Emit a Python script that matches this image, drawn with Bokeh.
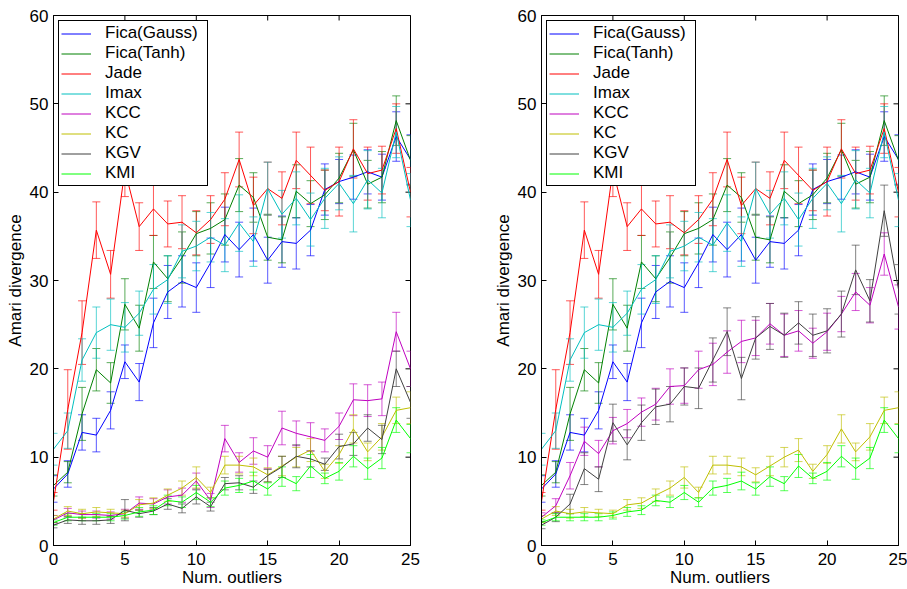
import math
from bokeh.plotting import figure
from bokeh.models import (ColumnDataSource, Whisker, TeeHead, Legend,
                          LegendItem, FixedTicker, Range1d)
from bokeh.layouts import row
from bokeh.embed import file_html
from bokeh.resources import INLINE

# ---------------- data ----------------
x = list(range(26))

fica_gauss = [6.4, 8.1, 12.8, 12.5, 15.3, 20.8, 18.5, 25.2, 28.7, 29.9, 29.2, 32.0, 35.2,
              33.5, 35.2, 32.3, 34.4, 34.2, 35.7, 40.3, 41.2, 41.7, 42.3, 41.7, 46.3, 43.7]
fica_gauss_err = [1.5, 1.5, 2.0, 1.9, 2.1, 1.9, 2.1, 2.8, 3.0, 2.9, 2.8, 2.8, 3.1,
                  3.1, 3.0, 2.6, 2.9, 2.9, 2.9, 2.9, 2.5, 2.5, 2.5, 2.6, 2.8, 2.8]

fica_tanh = [6.8, 8.3, 14.9, 19.9, 18.4, 27.3, 24.6, 32.1, 30.2, 32.6, 35.3, 35.9, 36.9,
             40.8, 39.4, 34.9, 34.6, 40.1, 38.7, 39.7, 41.6, 44.8, 40.9, 41.7, 48.1, 43.6]
fica_tanh_err = [1.2, 1.2, 3.0, 2.4, 2.3, 2.9, 2.6, 3.0, 2.6, 2.9, 2.5, 2.9, 2.9,
                 3.0, 2.8, 2.6, 2.6, 3.0, 2.6, 2.8, 2.8, 3.0, 2.7, 2.9, 2.8, 2.8]

jade = [5.0, 15.4, 24.1, 35.7, 30.7, 42.5, 36.1, 38.1, 36.4, 36.6, 35.4, 36.9, 39.2,
        43.7, 38.5, 40.4, 39.3, 43.6, 41.9, 40.2, 41.2, 44.9, 42.1, 42.5, 47.2, 40.0]
jade_err = [1.0, 4.5, 3.6, 3.2, 2.7, 3.0, 2.7, 3.0, 2.6, 3.0, 2.5, 2.7, 3.0,
            3.1, 3.2, 3.0, 3.0, 3.2, 3.2, 2.3, 3.9, 3.3, 3.0, 2.7, 2.8, 2.8]

imax = [10.9, 13.0, 21.0, 24.1, 25.0, 24.7, 26.3, 29.0, 30.1, 33.3, 33.9, 34.9, 34.0,
        36.5, 34.4, 40.4, 37.5, 39.3, 36.9, 39.3, 41.0, 38.7, 41.4, 39.9, 46.8, 39.1]
imax_err = [1.8, 2.0, 2.4, 2.9, 2.9, 2.8, 2.5, 2.8, 2.7, 3.0, 2.8, 2.8, 3.0,
            3.2, 2.8, 3.0, 2.7, 3.0, 3.0, 3.4, 3.0, 3.2, 3.3, 2.8, 2.9, 3.0]

kc = [3.0, 3.9, 3.6, 3.8, 3.7, 3.6, 4.6, 4.8, 5.7, 6.5, 7.7, 6.0, 9.1,
      9.1, 8.9, 8.0, 9.0, 10.0, 10.8, 8.4, 10.3, 13.2, 10.6, 12.3, 15.3, 15.6]
kc_err = [0.4, 0.5, 0.5, 0.5, 0.4, 0.4, 0.6, 0.6, 0.7, 0.8, 1.2, 0.6, 1.0,
          1.0, 1.0, 0.8, 1.1, 1.1, 1.3, 0.8, 1.0, 1.6, 1.0, 1.5, 1.5, 1.8]

kmi = [2.6, 3.2, 3.2, 3.2, 3.2, 3.4, 3.8, 4.0, 5.1, 4.9, 6.0, 4.9, 6.5,
       6.8, 7.3, 6.4, 7.8, 7.0, 9.0, 7.6, 8.4, 10.1, 8.7, 9.9, 14.2, 12.1]
kmi_err = [0.3, 0.4, 0.4, 0.4, 0.4, 0.4, 0.5, 0.5, 0.6, 0.6, 0.8, 0.5, 0.8,
           0.8, 1.0, 0.7, 1.1, 0.8, 1.3, 0.6, 1.0, 1.2, 1.2, 1.2, 1.4, 1.6]

# left panel
kcc_a = [2.9, 3.7, 3.5, 3.5, 3.4, 3.6, 4.8, 4.7, 5.5, 5.7, 7.3, 5.1, 12.1,
         9.4, 10.7, 10.0, 13.3, 12.7, 12.3, 11.9, 13.5, 16.5, 16.4, 16.6, 24.2, 20.0]
kcc_a_err = [0.5, 0.5, 0.4, 0.4, 0.4, 0.5, 0.7, 0.6, 0.8, 0.8, 0.9, 0.8, 1.5,
             1.1, 1.5, 1.3, 1.9, 1.4, 1.6, 1.3, 1.5, 1.8, 1.8, 1.9, 2.2, 2.0]
kgv_a = [2.3, 2.9, 2.8, 2.8, 2.9, 4.0, 3.6, 3.9, 4.7, 4.2, 5.5, 4.4, 7.0,
         7.1, 6.6, 7.9, 8.9, 10.1, 9.8, 9.2, 11.2, 11.5, 13.3, 12.0, 20.0, 16.2]
kgv_a_err = [0.3, 0.4, 0.4, 0.4, 0.4, 1.2, 0.4, 0.4, 0.6, 0.5, 0.8, 0.5, 0.7,
             0.8, 0.7, 0.7, 1.2, 1.3, 0.9, 0.7, 1.4, 1.3, 1.5, 1.6, 2.0, 1.8]

# right panel
kcc_b = [3.2, 4.5, 7.9, 11.8, 10.4, 13.0, 13.8, 15.1, 16.0, 18.0, 18.1, 19.9, 20.5,
         21.9, 23.1, 23.5, 25.1, 23.8, 24.3, 22.9, 24.2, 26.2, 28.7, 27.2, 33.0, 27.0]
kcc_b_err = [0.5, 0.8, 1.5, 1.6, 1.5, 1.5, 1.6, 1.6, 1.8, 2.0, 2.0, 2.1, 2.4,
             2.4, 2.4, 2.0, 2.3, 2.4, 2.3, 1.7, 2.1, 2.0, 2.1, 2.0, 2.4, 2.5]
kgv_b = [2.3, 3.2, 4.7, 8.7, 7.5, 13.9, 11.4, 13.9, 15.7, 16.0, 18.0, 17.8, 21.0,
         24.2, 18.9, 23.5, 24.8, 23.8, 25.2, 23.8, 24.3, 26.2, 31.2, 27.7, 37.9, 29.0]
kgv_b_err = [0.4, 0.5, 1.1, 1.8, 1.4, 2.1, 1.7, 2.0, 2.0, 2.0, 2.1, 2.3, 2.5,
             2.7, 2.4, 2.4, 2.6, 2.5, 2.4, 2.4, 2.5, 2.6, 2.8, 2.4, 2.9, 2.8]

labels = ["Fica(Gauss)", "Fica(Tanh)", "Jade", "Imax", "KCC", "KC", "KGV", "KMI"]
colors = ["#0000ff", "#008000", "#ff0000", "#00bfbf", "#bf00bf", "#bfbf00", "#404040", "#00ff00"]
x_ticks = [0, 5, 10, 15, 20, 25]
y_ticks = [0, 10, 20, 30, 40, 50, 60]
x_max, y_max = 25, 60

FONT = "Liberation Sans"


def make_panel(kcc, kcc_err, kgv, kgv_err, width, b_left, b_right):
    p = figure(width=width, height=589, output_backend="svg", toolbar_location=None,
               x_range=Range1d(0, x_max), y_range=Range1d(0, y_max),
               min_border_left=b_left, min_border_right=b_right,
               min_border_top=15, min_border_bottom=42)
    p.xgrid.visible = False
    p.ygrid.visible = False
    p.outline_line_color = "black"
    p.outline_line_alpha = 1.0
    p.background_fill_color = "white"
    p.border_fill_color = "white"

    for ax, tk in ((p.xaxis[0], x_ticks), (p.yaxis[0], y_ticks)):
        ax.ticker = FixedTicker(ticks=tk)
        ax.major_tick_in = 5
        ax.major_tick_out = 0
        ax.minor_tick_line_color = None
        ax.axis_line_color = "black"
        ax.major_tick_line_color = "black"
        ax.major_label_text_font = FONT
        ax.major_label_text_font_size = "17px"
        ax.major_label_text_color = "black"
        ax.axis_label_text_font = FONT
        ax.axis_label_text_font_size = "17px"
        ax.axis_label_text_font_style = "normal"
        ax.axis_label_text_color = "black"
    p.xaxis[0].major_label_standoff = 7
    p.xaxis[0].axis_label_standoff = 0
    p.yaxis[0].major_label_standoff = 5
    p.yaxis[0].axis_label_standoff = 2
    p.xaxis[0].axis_label = "Num. outliers"
    p.yaxis[0].axis_label = "Amari divergence"

    # inward ticks on the top and right edges (clipped to the frame)
    p.scatter(x=x_ticks, y=[y_max] * len(x_ticks), marker="dash", size=10,
              angle=math.pi / 2, line_color="black", line_width=1)
    p.scatter(x=[x_max] * len(y_ticks), y=y_ticks, marker="dash", size=10,
              line_color="black", line_width=1)

    series = [(fica_gauss, fica_gauss_err), (fica_tanh, fica_tanh_err), (jade, jade_err),
              (imax, imax_err), (kcc, kcc_err), (kc, kc_err), (kgv, kgv_err), (kmi, kmi_err)]
    items = []
    for (ys, es), lab, col in zip(series, labels, colors):
        src = ColumnDataSource(dict(x=x, y=ys,
                                    upper=[a + b for a, b in zip(ys, es)],
                                    lower=[a - b for a, b in zip(ys, es)]))
        w = Whisker(source=src, base="x", upper="upper", lower="lower",
                    line_color=col, line_alpha=0.65, line_width=1,
                    upper_head=TeeHead(size=8, line_color=col, line_alpha=0.65, line_width=1),
                    lower_head=TeeHead(size=8, line_color=col, line_alpha=0.65, line_width=1))
        p.add_layout(w)
        r = p.line("x", "y", source=src, line_color=col, line_width=1)
        items.append(LegendItem(label=lab, renderers=[r]))

    leg = Legend(items=items, location="top_left", margin=5, padding=2, spacing=0,
                 label_height=19, glyph_height=19, glyph_width=30, label_width=100,
                 label_text_font=FONT, label_text_font_size="17px",
                 label_text_color="black",
                 label_standoff=14,
                 border_line_color="black", border_line_alpha=1.0, border_line_width=1,
                 background_fill_alpha=1.0)
    p.add_layout(leg)
    return p


p1 = make_panel(kcc_a, kcc_a_err, kgv_a, kgv_a_err, 488, 53, 78)
p2 = make_panel(kcc_b, kcc_b_err, kgv_b, kgv_b_err, 419, 53, 9)
layout = row(p1, p2)

open("out.html", "w").write(file_html(layout, INLINE))
